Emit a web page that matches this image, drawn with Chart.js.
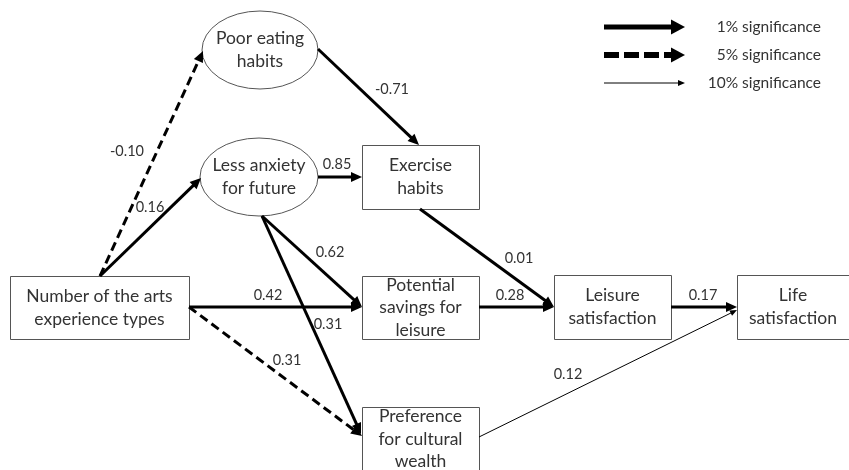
<!DOCTYPE html>
<html><head><meta charset="utf-8">
<script src="https://cdn.jsdelivr.net/npm/chart.js@4"></script>
<style>html,body{margin:0;padding:0;background:#fff}#wrap{width:849px;height:470px}</style>
</head><body><div id="wrap"><canvas id="c" width="849" height="470"></canvas></div>
<script>
// ---- data ----
const nodeLabels = [
  ["Poor eating","habits"],
  ["Less anxiety","for future"],
  ["Exercise","habits"],
  ["Number of the arts","experience types"],
  ["Potential","savings for","leisure"],
  ["Leisure","satisfaction"],
  ["Life","satisfaction"],
  ["Preference","for cultural","wealth"]
];
const edgeFrom = [3,3,0,1,1,1,3,3,2,4,5,7];
const edgeTo   = [0,1,2,2,4,7,4,7,5,5,6,6];
const coefficients = [-0.10,0.16,-0.71,0.85,0.62,0.31,0.42,0.31,0.01,0.28,0.17,0.12];
const significance = [5,1,1,1,1,1,1,5,1,1,1,10];
const legendLevels = [1,5,10];
const legendLabels = ["1% significance","5% significance","10% significance"];

// ---- layout (positions/sizes, separate from data) ----
const nodeShape = ["ellipse","ellipse","box","box","box","box","box","box"];
const nodeBox = [ // cx, cy, w, h
  [260,50,116,78],[259,177,118,78],[420.5,177,117,64],[99.5,307.5,179,63],
  [420.5,307.5,117,63],[612.5,307,117,64],[793,307,112,64],[420.5,439,117,64]
];
const edgeStart = [[100,276],[100,276],[318,49],[318,177],[262,216],[262,216],[189,307],[189,307],[420,209],[479,307],[671,307],[479,437]];
const edgeEnd   = [[203,51],[201,178],[419,145],[362,177],[362,307],[361,434],[362,307],[362,436],[554,307],[554,307],[737,307],[737,310]];
const labelPos  = [[127,151],[150,207],[392,89],[337,164],[330,252],[328,324],[268,295],[287,360],[519,258],[510,295],[703,295],[568,374]];
const legendY = [27,55,83];
const legendX = [604,685];
const sigStyle = {
  1:{w:3,dash:[],head:11,half:5},
  5:{w:3,dash:[9,5],head:11,half:5},
  10:{w:1,dash:[],head:7,half:3}
};
const legStyle = {
  1:{w:5,dash:[],head:14,half:7.5},
  5:{w:6,dash:[15,5],head:14,half:7.5},
  10:{w:1,dash:[],head:7,half:3}
};
const TEXT = '#333';
const FONT = 'Lato, "Open Sans", sans-serif';

function shortened(i, st){
  const s = edgeStart[i], e = edgeEnd[i];
  const dx = e[0]-s[0], dy = e[1]-s[1], L = Math.hypot(dx,dy);
  const k = (L - st.head*0.8)/L;
  return [{x:s[0],y:s[1]},{x:s[0]+dx*k,y:s[1]+dy*k}];
}

const datasets = coefficients.map((c,i)=>{
  const st = sigStyle[significance[i]];
  return {
    label: nodeLabels[edgeFrom[i]].join(' ')+' → '+nodeLabels[edgeTo[i]].join(' '),
    data: shortened(i, st),
    showLine:true, borderColor:'#000', borderWidth:st.w, borderDash:st.dash,
    pointRadius:0, fill:false, tension:0
  };
});

function arrowHead(ctx, x0,y0,x1,y1, head, half){
  const a = Math.atan2(y1-y0, x1-x0);
  ctx.save();
  ctx.translate(x1,y1); ctx.rotate(a);
  ctx.beginPath(); ctx.moveTo(0,0); ctx.lineTo(-head,-half); ctx.lineTo(-head,half); ctx.closePath();
  ctx.fillStyle='#000'; ctx.fill();
  ctx.restore();
}

const diagram = {
  id:'diagram',
  beforeDatasetsDraw(chart){
    const ctx = chart.ctx, xs = chart.scales.x, ys = chart.scales.y;
    ctx.save();
    nodeBox.forEach((b,i)=>{
      const cx = xs.getPixelForValue(b[0]), cy = ys.getPixelForValue(b[1]);
      const w = xs.getPixelForValue(b[0]+b[2]) - cx, h = ys.getPixelForValue(b[1]+b[3]) - cy;
      ctx.beginPath();
      if(nodeShape[i]==='ellipse') ctx.ellipse(cx,cy,Math.abs(w)/2,Math.abs(h)/2,0,0,Math.PI*2);
      else ctx.rect(Math.round(cx-Math.abs(w)/2)+0.5, Math.round(cy-Math.abs(h)/2)+0.5, Math.round(Math.abs(w)), Math.round(Math.abs(h)));
      ctx.fillStyle='#fff'; ctx.fill();
      ctx.lineWidth=1; ctx.strokeStyle='#555'; ctx.stroke();
      const lines = nodeLabels[i];
      ctx.fillStyle=TEXT; ctx.font='17.5px '+FONT; ctx.textAlign='center'; ctx.textBaseline='middle';
      const lh = lines.length===3 ? 22.5 : 23;
      lines.forEach((t,j)=>ctx.fillText(t, cx, cy + (j-(lines.length-1)/2)*lh));
    });
    ctx.restore();
  },
  afterDatasetsDraw(chart){
    const ctx = chart.ctx, xs = chart.scales.x, ys = chart.scales.y;
    ctx.save();
    coefficients.forEach((c,i)=>{
      const st = sigStyle[significance[i]];
      const s = edgeStart[i], e = edgeEnd[i];
      arrowHead(ctx, xs.getPixelForValue(s[0]), ys.getPixelForValue(s[1]), xs.getPixelForValue(e[0]), ys.getPixelForValue(e[1]), st.head, st.half);
      ctx.fillStyle=TEXT; ctx.font='14.5px '+FONT; ctx.textAlign='center'; ctx.textBaseline='middle';
      ctx.fillText(c.toFixed(2), xs.getPixelForValue(labelPos[i][0]), ys.getPixelForValue(labelPos[i][1]));
    });
    // legend
    legendLevels.forEach((lv,i)=>{
      const st = legStyle[lv];
      const y = ys.getPixelForValue(legendY[i]);
      const x0 = xs.getPixelForValue(legendX[0]), x1 = xs.getPixelForValue(legendX[1]);
      ctx.beginPath(); ctx.setLineDash(st.dash); ctx.lineWidth=st.w; ctx.strokeStyle='#000';
      ctx.moveTo(x0,y); ctx.lineTo(x1-st.head+1,y); ctx.stroke(); ctx.setLineDash([]);
      arrowHead(ctx, x0,y,x1,y, st.head, st.half);
      ctx.fillStyle=TEXT; ctx.font='15.5px '+FONT; ctx.textAlign='right'; ctx.textBaseline='middle';
      ctx.fillText(legendLabels[i], xs.getPixelForValue(821), y);
    });
    ctx.restore();
  }
};

new Chart(document.getElementById('c'), {
  type:'scatter',
  data:{datasets},
  options:{
    responsive:false, animation:false, devicePixelRatio:1,
    layout:{padding:0},
    plugins:{legend:{display:false}, tooltip:{enabled:false}},
    scales:{
      x:{type:'linear',min:0,max:849,display:false},
      y:{type:'linear',min:0,max:470,reverse:true,display:false}
    }
  },
  plugins:[diagram]
});
</script></body></html>
